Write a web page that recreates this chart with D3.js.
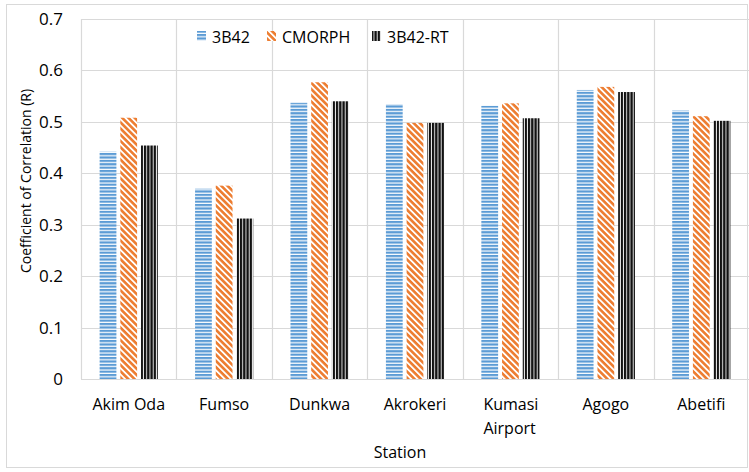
<!DOCTYPE html>
<html><head><meta charset="utf-8">
<script src="https://cdn.jsdelivr.net/npm/d3@7"></script>
<style>body{margin:0;background:#fff}svg{display:block}text{font-family:"Open Sans","Noto Sans",sans-serif;fill:#000}</style>
</head><body>
<script>
const categories = ["Akim Oda","Fumso","Dunkwa","Akrokeri","Kumasi Airport","Agogo","Abetifi"];
const seriesNames = ["3B42","CMORPH","3B42-RT"];
const s3B42   = [0.442,0.370,0.537,0.534,0.531,0.562,0.522];
const sCMORPH = [0.508,0.376,0.577,0.498,0.536,0.568,0.511];
const s3B42RT = [0.454,0.312,0.540,0.498,0.507,0.558,0.502];
const yTicks = [0,0.1,0.2,0.3,0.4,0.5,0.6,0.7];

const W=749,H=472;
const m={l:81,r:0,t:19,b:93};
const svg=d3.select("body").append("svg").attr("width",W).attr("height",H);
const defs=svg.append("defs");
const p1=defs.append("pattern").attr("id","pBlue").attr("patternUnits","userSpaceOnUse").attr("width",4).attr("height",3.4);
p1.append("rect").attr("width",4).attr("height",3.4).attr("fill","#fff");
p1.append("rect").attr("width",4).attr("height",2.2).attr("fill","#5B9BD5");
const p2=defs.append("pattern").attr("id","pOrange").attr("patternUnits","userSpaceOnUse").attr("width",4.4).attr("height",4.4).attr("patternTransform","rotate(45)");
p2.append("rect").attr("width",4.4).attr("height",4.4).attr("fill","#fff");
p2.append("rect").attr("width",4.4).attr("height",2.6).attr("fill","#ED7D31");
const p3=defs.append("pattern").attr("id","pBlack").attr("patternUnits","userSpaceOnUse").attr("width",3.2).attr("height",4);
p3.append("rect").attr("width",3.2).attr("height",4).attr("fill","#fff");
p3.append("rect").attr("width",2.3).attr("height",4).attr("fill","#111");
const fills=["url(#pBlue)","url(#pOrange)","url(#pBlack)"];

svg.append("rect").attr("x",6.5).attr("y",4.5).attr("width",741).attr("height",463).attr("fill","none").attr("stroke","#d9d9d9");

const x=d3.scaleBand().domain(categories).range([m.l,W-m.r]);
const y=d3.scaleLinear().domain([0,0.7]).range([H-m.b,m.t]);
const xs=d3.scaleBand().domain(seriesNames).range([0,x.bandwidth()]).paddingInner(0.19).paddingOuter(0.9);

svg.append("g").selectAll("line").data(yTicks).join("line")
 .attr("x1",m.l).attr("x2",W).attr("y1",d=>Math.round(y(d))+0.5).attr("y2",d=>Math.round(y(d))+0.5)
 .attr("stroke","#d9d9d9").attr("stroke-width",1.2);
svg.append("g").selectAll("line").data(categories).join("line")
 .attr("x1",c=>Math.round(x(c))+0.5).attr("x2",c=>Math.round(x(c))+0.5)
 .attr("y1",m.t).attr("y2",H-m.b).attr("stroke","#d9d9d9").attr("stroke-width",1.2);

const data=[s3B42,sCMORPH,s3B42RT];
data.forEach((vals,si)=>{
  svg.append("g").selectAll("rect").data(vals).join("rect")
   .attr("x",(d,i)=>x(categories[i])+xs(seriesNames[si]))
   .attr("width",xs.bandwidth())
   .attr("y",d=>y(d)).attr("height",d=>y(0)-y(d))
   .attr("fill",fills[si]);
});

const ya=svg.append("g").attr("transform",`translate(${m.l},0)`).call(d3.axisLeft(y).tickValues(yTicks).tickSize(0).tickPadding(18).tickFormat(d=>d===0?"0":d3.format(".1f")(d)));
ya.select(".domain").remove();
ya.selectAll("text").style("font-size","17px").attr("fill","#000");

const xa=svg.append("g").attr("transform",`translate(0,${H-m.b})`).call(d3.axisBottom(x).tickSize(0).tickPadding(0).tickFormat(""));
xa.select(".domain").remove();
xa.selectAll(".tick").each(function(d){
  const two=d==="Kumasi Airport";
  const words=two?["Kumasi","Airport"]:[d];
  const t=d3.select(this).append("text").attr("text-anchor",two?"start":"middle").style("font-size","16px");
  words.forEach((w,i)=>t.append("tspan").attr("x",two?-27:0).attr("y",31+i*24).text(w));
});

svg.append("text").attr("x",400).attr("y",458).attr("text-anchor","middle").style("font-size","16px").text("Station");
svg.append("text").attr("transform","translate(31,181) rotate(-90)").attr("text-anchor","middle").style("font-size","14px").text("Coefficient of Correlation (R)");

const legX=[197,267,372];
seriesNames.forEach((n,i)=>{
  svg.append("rect").attr("x",legX[i]).attr("y",31).attr("width",9).attr("height",10).attr("fill",fills[i]);
  svg.append("text").attr("x",legX[i]+15).attr("y",43).style("font-size","16px").text(n);
});
</script>
</body></html>
